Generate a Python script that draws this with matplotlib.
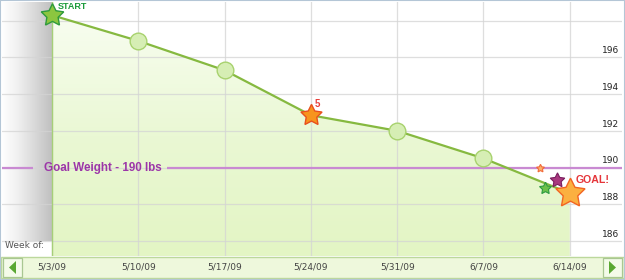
import numpy as np
import matplotlib
matplotlib.use('Agg')
import matplotlib.pyplot as plt
import matplotlib.transforms as mtransforms
from matplotlib.colors import LinearSegmentedColormap
from matplotlib.patches import Polygon, Rectangle

# weekly weigh-ins
weeks = ['5/3/09', '5/10/09', '5/17/09', '5/24/09', '5/31/09', '6/7/09', '6/14/09']
weight = [198.3, 196.9, 195.3, 192.85, 192.0, 190.5, 188.6]
goal = 190
ytick_vals = [186, 188, 190, 192, 194, 196]
grid_vals = [186, 188, 190, 192, 194, 196, 198]
milestone_idx = 3          # the "5" lbs lost star
milestone_label = '5'

# little celebration stars around the goal star
deco_x = [5.65, 5.71, 5.85]
deco_y = [190.0, 188.9, 189.3]
deco_face = ['#fbb068', '#6cc04a', '#a8387e']
deco_edge = ['#f26a3a', '#2a9a40', '#7a1e5e']
deco_size = [6, 9, 11]

W, H = 625, 280
XMIN, XMAX = -0.579, 6.605
YMIN, YMAX = 185.18, 199.02

def fpx(x, y):
    # image pixel -> figure fraction
    return x / W, 1 - y / H

fig = plt.figure(figsize=(W / 100, H / 100), dpi=100)
fig.patch.set_facecolor('white')
ax = fig.add_axes([2 / W, 24 / H, 620 / W, 254 / H])
ax.set_axis_off()
ax.set_zorder(2)

xs = np.arange(len(weeks))

# grey gradient before the start week
grey = LinearSegmentedColormap.from_list('grey', ['#ffffff', '#efefef', '#d8d8d8', '#c0c0c0'])
ax.imshow(np.linspace(0, 1, 200).reshape(1, -1), extent=[XMIN, 0, 186, YMAX],
          cmap=grey, aspect='auto', zorder=0)

# green area under the curve
verts = [(0, YMIN)] + list(zip(xs, weight)) + [(xs[-1], YMIN)]
poly = Polygon(verts, closed=True, facecolor='none', edgecolor='none')
ax.add_patch(poly)
greens = LinearSegmentedColormap.from_list('greens', ['#e3f5c4', '#eaf8d4', '#f8fdf0'])
im = ax.imshow(np.linspace(0, 1, 200).reshape(-1, 1), extent=[0, xs[-1], YMIN, max(weight)],
               origin='lower', cmap=greens, aspect='auto', zorder=1)
im.set_clip_path(poly)

# grid
for v in grid_vals:
    ax.axhline(v, color='#d4d4d4', lw=0.9, alpha=0.75, zorder=2)
for x in xs:
    ax.axvline(x, color='#d4d4d4', lw=0.9, alpha=0.75, zorder=2)
ax.axvline(0, color='#a6cf78', lw=1.0, zorder=2)

# goal line, broken around its label
ax.plot([XMIN, -0.22], [goal, goal], color='#c98ad2', lw=1.6, zorder=3, solid_capstyle='butt')
ax.plot([1.33, XMAX], [goal, goal], color='#c98ad2', lw=1.6, zorder=3, solid_capstyle='butt')
ax.text(0.59, goal, 'Goal Weight - 190 lbs', ha='center', va='center', fontsize=8.4,
        fontweight='bold', color='#9c36a8', family='Liberation Sans', zorder=5)

# weight line
ax.plot(xs, weight, color='#86b940', lw=1.6, zorder=4)
circ = [i for i in range(1, len(weeks) - 1) if i != milestone_idx]
ax.plot(xs[circ], np.array(weight)[circ], 'o', ms=12, mfc='#d6eeb4', mec='#a8d26e',
        mew=1.0, zorder=5)

star = (5, 1, 0)
ax.plot(xs[0], weight[0], marker=star, ms=17, mfc='#8cc63f', mec='#2e9a3c', mew=1.0, zorder=6)
ax.plot(xs[milestone_idx], weight[milestone_idx], marker=star, ms=16, mfc='#f7941d',
        mec='#e8501e', mew=1.0, zorder=6)
for x, y, fc, ec, s in zip(deco_x, deco_y, deco_face, deco_edge, deco_size):
    ax.plot(x, y, marker=star, ms=s, mfc=fc, mec=ec, mew=0.8, zorder=6)
ax.plot(xs[-1], weight[-1], marker=star, ms=22, mfc='#fbb040', mec='#f26522', mew=1.0, zorder=7)

ax.text(0.07, YMAX, 'START', ha='left', va='top', fontsize=6.5, fontweight='bold',
        color='#1a9a3a', family='Liberation Sans', zorder=8)
ax.text(xs[milestone_idx] + 0.07, weight[milestone_idx] + 0.62, milestone_label, ha='center',
        va='center', fontsize=7, fontweight='bold', color='#e8413c', family='Liberation Sans', zorder=8)
ax.text(xs[-1] + 0.07, 189.32, 'GOAL!', ha='left', va='center', fontsize=7.6, fontweight='bold',
        color='#e5353a', family='Liberation Sans', zorder=8)

# y labels sit just above their gridlines at the right
trans = mtransforms.blended_transform_factory(ax.transAxes, ax.transData)
off = mtransforms.ScaledTranslation(0, 1.5 / 72, fig.dpi_scale_trans)
for v in ytick_vals:
    ax.text(0.995, v, str(v), transform=trans + off, ha='right', va='bottom',
            fontsize=6.5, color='#222222', zorder=8)

ax.set_xlim(XMIN, XMAX)
ax.set_ylim(YMIN, YMAX)

fig.text(*fpx(5, 246), 'Week of:', ha='left', va='center', fontsize=6.5, color='#555555',
         zorder=4)

# bottom week band
fig.patches.append(Rectangle(fpx(1, 278), 623 / W, 21 / H, transform=fig.transFigure,
                             facecolor='#eef8dc', edgecolor='#bcd89c', lw=1.0, zorder=-3))
for bx0, pts in [(3, [(16, 261), (16, 274), (9, 267.5)]),
                 (603, [(609, 261), (609, 274), (616, 267.5)])]:
    fig.patches.append(Rectangle(fpx(bx0, 277), 19 / W, 19 / H, transform=fig.transFigure,
                                 facecolor='#f4fbe9', edgecolor='#a9c792', lw=0.9, zorder=-2))
    fig.patches.append(Polygon([fpx(*p) for p in pts], closed=True, transform=fig.transFigure,
                               facecolor='#5aa832', edgecolor='none', zorder=-1))

bx = fig.add_axes([2 / W, 2 / H, 620 / W, 21 / H])
bx.set_axis_off()
bx.set_zorder(3)
bx.set_xlim(XMIN, XMAX)
bx.set_ylim(0, 1)
for x, lab in zip(xs, weeks):
    bx.text(x, 0.5, lab, ha='center', va='center', fontsize=6.5, color='#444444')

# outer frame
fig.patches.append(Rectangle((0, 0), 1, 1, transform=fig.transFigure, facecolor='none',
                             edgecolor='#b4c6d6', lw=1.5, zorder=10))

fig.savefig('out.png', dpi=100)
